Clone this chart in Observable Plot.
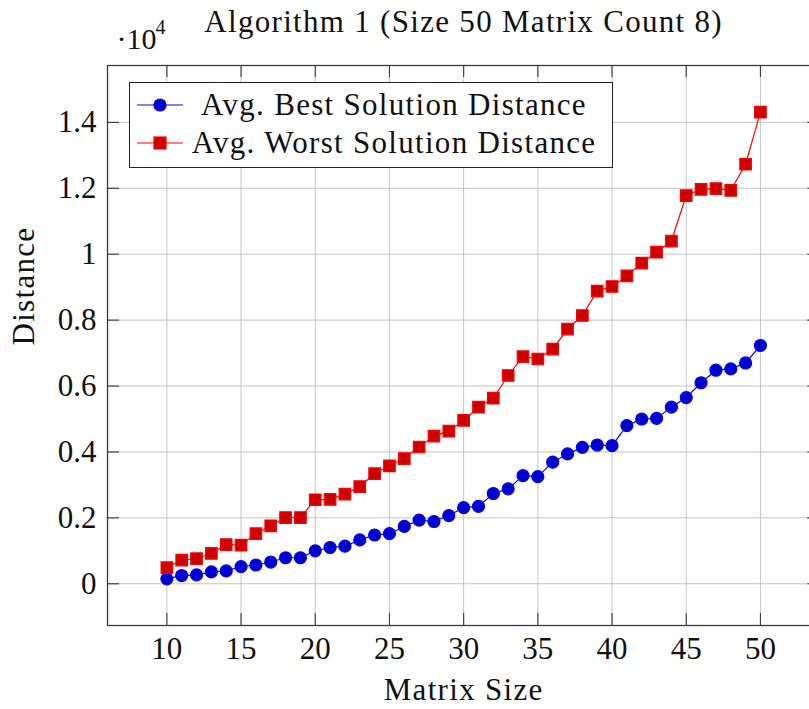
<!DOCTYPE html>
<html>
<head>
<meta charset="utf-8">
<script src="https://cdn.jsdelivr.net/npm/d3@7"></script>
<script src="https://cdn.jsdelivr.net/npm/@observablehq/plot@0.6"></script>
<style>
  html, body { margin: 0; padding: 0; background: #fff; overflow: hidden; }
  #wrap { position: relative; width: 809px; height: 709px; }
  #legend {
    position: absolute; left: 129px; top: 82px; width: 482px; height: 84px;
    border: 1.3px solid #222; background: #fff;
    font-family: "Liberation Serif", "Times New Roman", serif; font-size: 31px; color: #111;
    letter-spacing: 1.3px;
  }
  #legend .row { position: absolute; left: 0; width: 100%; height: 36px; }
  #legend svg { position: absolute; left: 6px; top: 0; }
  #legend .label { position: absolute; left: 52px; right: 6px; text-align: center; line-height: 36px; top: 0; white-space: nowrap; }
  .wide { letter-spacing: 1.3px; }
</style>
</head>
<body>
<div id="wrap"></div>
<script>
// Matrix sizes on the x axis
const matrixSizes = [10, 11, 12, 13, 14, 15, 16, 17, 18, 19, 20, 21, 22, 23, 24, 25, 26, 27, 28, 29, 30,
  31, 32, 33, 34, 35, 36, 37, 38, 39, 40, 41, 42, 43, 44, 45, 46, 47, 48, 49, 50];

// Average best solution distance per matrix size
const bestDistance = [150, 250, 270, 360, 390, 520, 570, 660, 790, 790, 1000, 1100, 1140, 1330, 1480,
  1520, 1740, 1930, 1890, 2070, 2310, 2350, 2740, 2880, 3280, 3250, 3690, 3940, 4140, 4210, 4190,
  4800, 5000, 5020, 5360, 5650, 6100, 6480, 6520, 6700, 7230];

// Average worst solution distance per matrix size
const worstDistance = [490, 720, 760, 920, 1190, 1170, 1520, 1760, 2010, 2010, 2550, 2560, 2720, 2950,
  3340, 3580, 3800, 4150, 4480, 4630, 4960, 5360, 5630, 6320, 6890, 6820, 7120, 7730, 8140, 8880,
  9020, 9340, 9730, 10060, 10400, 11780, 11970, 11990, 11940, 12730, 14310];

const seriesNames = ["Avg. Best Solution Distance", "Avg. Worst Solution Distance"];
const xTicks = [10, 15, 20, 25, 30, 35, 40, 45, 50];
const yTicks = [0, 2000, 4000, 6000, 8000, 10000, 12000, 14000];
const titleText = "Algorithm 1 (Size 50 Matrix Count 8)";

const best = matrixSizes.map((s, i) => ({size: s, value: bestDistance[i]}));
const worst = matrixSizes.map((s, i) => ({size: s, value: worstDistance[i]}));

// Axis limits padded by 10% of the data range on each side
const yMin = d3.min(bestDistance.concat(worstDistance));
const yMax = d3.max(bestDistance.concat(worstDistance));
const yPad = (yMax - yMin) * 0.1;
const xPad = (d3.max(matrixSizes) - d3.min(matrixSizes)) * 0.1;

const W = 809, H = 709;
const mTop = 65, mBottom = 84, mLeft = 107, mRight = -10.3;
const frameW = W - mLeft - mRight, frameH = H - mTop - mBottom;
const tickLen = 12;
const font = '"Liberation Serif", "Times New Roman", serif';
const axisColor = "#3a3a3a";
const gridColor = "#c4c4c4";
const ink = "#111";

const chart = Plot.plot({
  width: W,
  height: H,
  marginTop: mTop,
  marginBottom: mBottom,
  marginLeft: mLeft,
  marginRight: mRight,
  style: {fontFamily: font, fontSize: "30px", color: ink, background: "#fff"},
  x: {domain: [d3.min(matrixSizes) - xPad, d3.max(matrixSizes) + xPad]},
  y: {domain: [yMin - yPad, yMax + yPad]},
  marks: [
    Plot.gridX(xTicks, {stroke: gridColor, strokeOpacity: 1, strokeWidth: 1}),
    Plot.gridY(yTicks, {stroke: gridColor, strokeOpacity: 1, strokeWidth: 1}),
    // inward tick marks on all four sides
    Plot.tickX(xTicks, {x: d => d, stroke: axisColor, strokeWidth: 1.1, insetTop: frameH - tickLen}),
    Plot.tickX(xTicks, {x: d => d, stroke: axisColor, strokeWidth: 1.1, insetBottom: frameH - tickLen}),
    Plot.tickY(yTicks, {y: d => d, stroke: axisColor, strokeWidth: 1.1, insetRight: frameW - tickLen}),
    Plot.tickY(yTicks, {y: d => d, stroke: axisColor, strokeWidth: 1.1, insetLeft: frameW - tickLen}),
    Plot.frame({stroke: axisColor, strokeWidth: 1.3}),
    Plot.axisX(xTicks, {anchor: "bottom", tickSize: 0, tickPadding: 11, label: null, fontSize: 31}),
    Plot.axisY(yTicks, {anchor: "left", tickSize: 0, tickPadding: 11, label: null, fontSize: 31,
      tickFormat: d => String(d / 1e4)}),
    // series: best
    Plot.line(best, {x: "size", y: "value", stroke: "#0000ff", strokeWidth: 1.2}),
    Plot.dot(best, {x: "size", y: "value", r: 6, fill: "#0000cc", stroke: "#0000ff", strokeWidth: 1.2}),
    // series: worst
    Plot.line(worst, {x: "size", y: "value", stroke: "#ff0000", strokeWidth: 1.2}),
    Plot.dot(worst, {x: "size", y: "value", symbol: "square", r: 6.5, fill: "#cc0000", stroke: "#ff0000", strokeWidth: 1.2}),
    // title, axis labels and the scale multiplier
    Plot.text([titleText], {text: d => d, frameAnchor: "top", lineAnchor: "middle", dy: -43, fontSize: 31, fill: ink, className: "wide"}),
    Plot.text(["Matrix Size"], {text: d => d, frameAnchor: "bottom", lineAnchor: "middle", dy: 65, fontSize: 31, fill: ink, className: "wide"}),
    Plot.text(["Distance"], {text: d => d, frameAnchor: "left", lineAnchor: "middle", dx: -83, rotate: -90, fontSize: 31, fill: ink, className: "wide"}),
    Plot.text(["·10"], {text: d => d, frameAnchor: "top-left", lineAnchor: "middle", dx: 9, dy: -26, textAnchor: "start", fontSize: 30, fill: ink}),
    Plot.text(["4"], {text: d => d, frameAnchor: "top-left", lineAnchor: "middle", dx: 48, dy: -38, textAnchor: "start", fontSize: 20, fill: ink})
  ]
});

const wrap = document.getElementById("wrap");
wrap.appendChild(chart);

// legend box
const legend = document.createElement("div");
legend.id = "legend";
const legendStyles = [
  {stroke: "#0000ff", fill: "#0000cc", shape: "circle"},
  {stroke: "#ff0000", fill: "#cc0000", shape: "square"}
];
seriesNames.forEach((name, i) => {
  const row = document.createElement("div");
  row.className = "row";
  row.style.top = (i === 0 ? 4 : 42) + "px";
  const st = legendStyles[i];
  const marker = st.shape === "circle"
    ? `<circle cx="24" cy="18" r="6" fill="${st.fill}" stroke="${st.stroke}" stroke-width="1.2"/>`
    : `<rect x="18" y="12" width="12" height="12" fill="${st.fill}" stroke="${st.stroke}" stroke-width="1.2"/>`;
  row.innerHTML = `<svg width="48" height="36"><line x1="1" y1="18" x2="47" y2="18" stroke="${st.stroke}" stroke-width="1.2"/>${marker}</svg><div class="label">${name}</div>`;
  legend.appendChild(row);
});
wrap.appendChild(legend);
</script>
</body>
</html>
